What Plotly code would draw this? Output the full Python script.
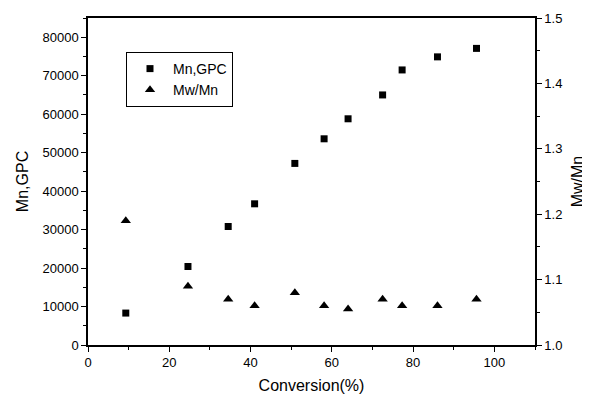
import plotly.graph_objects as go

conversion = [9.3, 24.6, 34.5, 41.0, 50.9, 58.1, 64.0, 72.5, 77.3, 86.0, 95.6]
mn_gpc = [8300, 20400, 30800, 36700, 47200, 53600, 58800, 65000, 71500, 74900, 77100]
mw_mn = [1.19, 1.09, 1.07, 1.06, 1.08, 1.06, 1.055, 1.07, 1.06, 1.06, 1.07]

FONT = "Arial, Liberation Sans, sans-serif"

fig = go.Figure()
fig.add_trace(go.Scatter(x=conversion, y=mn_gpc, mode="markers", name="Mn,GPC",
                         marker=dict(symbol="square", size=7, color="black"),
                         yaxis="y"))
fig.add_trace(go.Scatter(x=conversion, y=mw_mn, mode="markers", name="Mw/Mn",
                         marker=dict(symbol="triangle-up", size=9, color="black"),
                         yaxis="y2"))

axis_common = dict(showgrid=False, zeroline=False, showline=True, linecolor="black",
                   linewidth=1.5, ticks="outside", ticklen=5, tickwidth=1.2,
                   tickcolor="black", automargin=False,
                   tickfont=dict(family=FONT, size=13, color="black"))

# page body has an 8px default margin, so the figure is sized to fit the 590x401 window
fig.update_layout(
    width=582, height=393,
    margin=dict(l=80, r=55, t=10, b=56),
    plot_bgcolor="white", paper_bgcolor="white",
    font=dict(family=FONT, color="black"),
    xaxis=dict(range=[0, 110], dtick=20, mirror=True,
               minor=dict(dtick=10, ticks="outside", ticklen=3, tickcolor="black"),
               title=dict(text="Conversion(%)", font=dict(family=FONT, size=16), standoff=10),
               **axis_common),
    yaxis=dict(range=[0, 85000], dtick=10000, tickformat="d",
               minor=dict(dtick=5000, ticks="outside", ticklen=3, tickcolor="black"),
               title=dict(text="Mn,GPC", font=dict(family=FONT, size=16), standoff=10),
               **axis_common),
    yaxis2=dict(range=[1.0, 1.5], dtick=0.1, tickformat=".1f", overlaying="y", side="right",
                minor=dict(dtick=0.05, ticks="outside", ticklen=3, tickcolor="black"),
                title=dict(text="Mw/Mn", font=dict(family=FONT, size=16), standoff=10),
                **axis_common),
    legend=dict(x=0.085, y=0.896, xanchor="left", yanchor="top",
                bordercolor="black", borderwidth=1, bgcolor="white",
                font=dict(family=FONT, size=14), itemwidth=36, tracegroupgap=0),
    showlegend=True,
)

fig.write_html("out.html")
